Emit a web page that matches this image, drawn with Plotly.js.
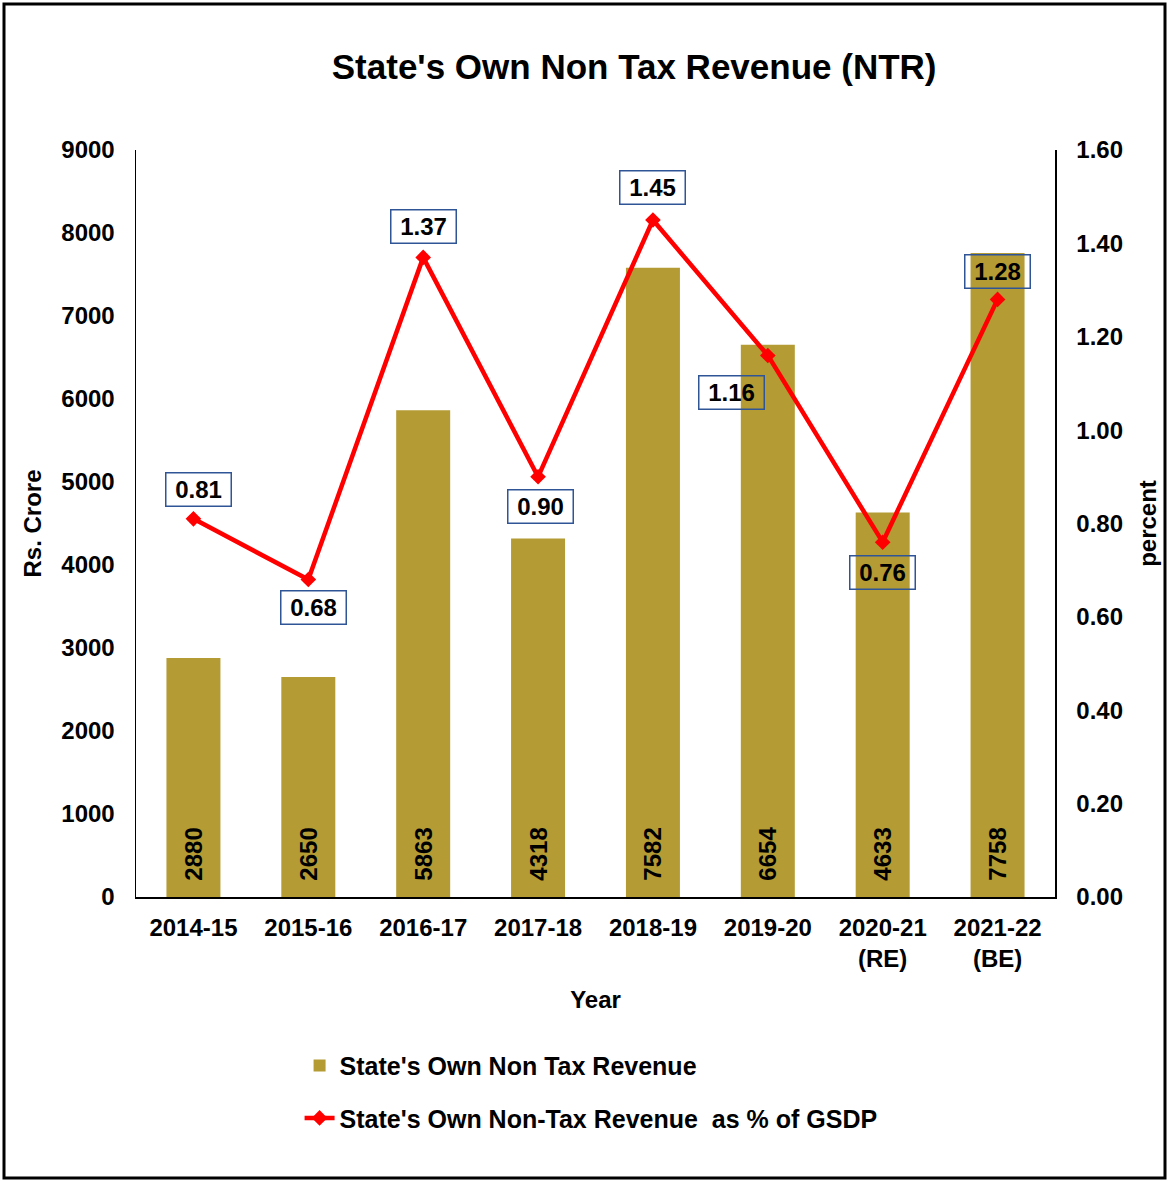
<!DOCTYPE html>
<html>
<head>
<meta charset="utf-8">
<script src="https://cdn.plot.ly/plotly-3.0.1.min.js"></script>
<style>
  html, body { margin: 0; padding: 0; background: #fff; }
  #chart { width: 1170px; height: 1181px; }
</style>
</head>
<body>
<div id="chart"></div>
<script>
// ---- data ----
const years = ["2014-15", "2015-16", "2016-17", "2017-18", "2018-19", "2019-20", "2020-21<br>(RE)", "2021-22<br>(BE)"];
const ntrValues = [2880, 2650, 5863, 4318, 7582, 6654, 4633, 7758];
const ntrPctGSDP = [0.81, 0.68, 1.37, 0.90, 1.45, 1.16, 0.76, 1.28];
const pctLabels = ["0.81", "0.68", "1.37", "0.90", "1.45", "1.16", "0.76", "1.28"];

// label box offsets (pixels) relative to each point
const labelShiftX = [5, 5, 0, 2, 0, -36, 0, 0];
const labelShiftY = [29, -28, 31, -30, 33, -37, -30, 28];

const FONT = "Liberation Sans, Arial, sans-serif";
const GOLD = "#B49B34";

const barTrace = {
  type: "bar",
  x: years,
  y: ntrValues,
  name: "State's Own Non Tax Revenue",
  marker: { color: GOLD },
  texttemplate: "\u00a0\u00a0%{y}",
  textposition: "inside",
  insidetextanchor: "start",
  textangle: -90,
  textfont: { family: FONT, size: 24, color: "#000", weight: "bold" },
  hoverinfo: "x+y",
  legendgroup: "a"
};

const lineTrace = {
  type: "scatter",
  mode: "lines+markers",
  x: years,
  y: ntrPctGSDP,
  yaxis: "y2",
  name: "State's Own Non-Tax Revenue  as % of GSDP",
  line: { color: "#FF0000", width: 4.5 },
  marker: { symbol: "diamond", size: 12, color: "#FF0000" },
  legendgroup: "b"
};

const annotations = ntrPctGSDP.map((v, i) => ({
  x: years[i],
  y: v,
  xref: "x",
  yref: "y2",
  text: pctLabels[i],
  showarrow: false,
  xshift: labelShiftX[i],
  yshift: labelShiftY[i],
  font: { family: FONT, size: 24, color: "#000", weight: "bold" },
  bordercolor: "#2F5597",
  borderwidth: 1.5,
  borderpad: 3,
  width: 58,
  height: 26
}));

const layout = {
  width: 1170,
  height: 1181,
  margin: { l: 136, r: 115, t: 150, b: 284 },
  paper_bgcolor: "#fff",
  plot_bgcolor: "#fff",
  font: { family: FONT, size: 24, color: "#000" },
  title: {
    text: "State's Own Non Tax Revenue (NTR)",
    font: { family: FONT, size: 35, color: "#000", weight: "bold" },
    x: 0.542, xref: "container", xanchor: "center",
    y: 1 - 67 / 1181, yref: "container", yanchor: "middle"
  },
  bargap: 0.53,
  showlegend: true,
  legend: {
    orientation: "v",
    x: 0.178, xanchor: "left",
    y: -0.195, yanchor: "top",
    font: { family: FONT, size: 25, color: "#000", weight: "bold" },
    traceorder: "grouped",
    tracegroupgap: 17,
    bgcolor: "rgba(0,0,0,0)"
  },
  xaxis: {
    type: "category",
    showline: true, linecolor: "#000", linewidth: 2,
    ticks: "",
    showgrid: false,
    ticklabelstandoff: 8,
    tickfont: { family: FONT, size: 24, color: "#000", weight: "bold" },
    title: { text: "Year", font: { family: FONT, size: 24, color: "#000", weight: "bold" }, standoff: 20 }
  },
  yaxis: {
    range: [0, 9000],
    dtick: 1000,
    showline: true, linecolor: "#000", linewidth: 1.5,
    ticks: "",
    showgrid: false,
    zeroline: false,
    ticklabelstandoff: 15,
    tickfont: { family: FONT, size: 24, color: "#000", weight: "bold" },
    title: { text: "Rs. Crore", font: { family: FONT, size: 24, color: "#000", weight: "bold" }, standoff: 13 }
  },
  yaxis2: {
    range: [0, 1.6],
    dtick: 0.2,
    tickformat: ".2f",
    overlaying: "y",
    side: "right",
    showline: true, linecolor: "#000", linewidth: 1.5,
    ticks: "",
    showgrid: false,
    zeroline: false,
    ticklabelstandoff: 15,
    tickfont: { family: FONT, size: 24, color: "#000", weight: "bold" },
    title: { text: "percent", font: { family: FONT, size: 24, color: "#000", weight: "bold" }, standoff: 17 }
  },
  annotations: annotations,
  shapes: [{
    type: "rect",
    xref: "paper", yref: "paper",
    x0: (4 - 136) / 919, x1: (1165 - 136) / 919,
    y0: (897 - 1178) / 747, y1: (897 - 4) / 747,
    line: { color: "#000", width: 3 },
    fillcolor: "rgba(0,0,0,0)",
    layer: "above"
  }]
};

Plotly.newPlot("chart", [barTrace, lineTrace], layout, { displayModeBar: false, staticPlot: true });
</script>
</body>
</html>
